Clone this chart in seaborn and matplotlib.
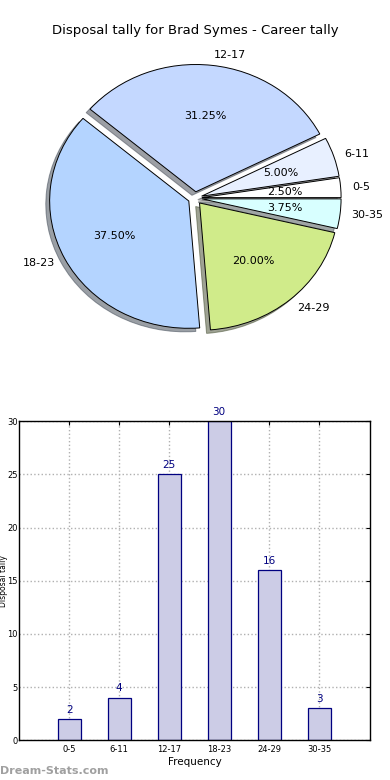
import matplotlib
matplotlib.use("Agg")
import matplotlib.pyplot as plt
import numpy as np
import pandas as pd
import seaborn as sns

sns.set_style("white")
plt.rcParams['font.family'] = ['DejaVu Sans']
plt.rcParams['text.color'] = 'black'
plt.rcParams['axes.labelcolor'] = 'black'
plt.rcParams['xtick.color'] = 'black'
plt.rcParams['ytick.color'] = 'black'

# disposal ranges and number of games in each
ranges = ["0-5", "6-11", "12-17", "18-23", "24-29", "30-35"]
games = [2, 4, 25, 30, 16, 3]
pie_colors = ["#ffffff", "#e8f0ff", "#c4d8ff", "#b4d4ff", "#d0eb8a", "#d8ffff"]

player = "Brad Symes"

fig = plt.figure(figsize=(3.9, 7.8), dpi=100)
fig.text(0.5, 0.961, "Disposal tally for %s - Career tally" % player,
         ha="center", va="center", fontsize=9.5)

# pie (old style, slightly squashed)
ax1 = fig.add_axes([0.054, 0.542, 0.892, 0.408])
wedges, texts, autotexts = ax1.pie(
    games, labels=ranges, colors=pie_colors, explode=[0.05] * len(games),
    autopct="%1.2f%%", shadow=True, startangle=0, labeldistance=1.08,
    pctdistance=0.6, wedgeprops=dict(edgecolor="black", linewidth=0.7),
    textprops=dict(fontsize=8))
ax1.set_aspect("auto")
ax1.set_xlim(-1.25, 1.25)
ax1.set_ylim(-1.25, 1.25)

# bar chart
df = pd.DataFrame({"range": ranges, "games": games})
ax2 = fig.add_axes([0.049, 0.051, 0.9, 0.409])
sns.barplot(data=df, x="range", y="games", color="#cccce6", saturation=1,
            width=0.46, edgecolor="navy", linewidth=0.9, ax=ax2, zorder=2)
for i, v in enumerate(games):
    ax2.text(i, v + 0.4, str(v), ha="center", va="bottom", color="navy", fontsize=7.5)
ax2.set_xlim(-1, 6.02)
ax2.set_ylim(0, 30)
ax2.set_yticks(np.arange(0, 31, 5))
ax2.grid(True, linestyle=":", color="#b0b0b0", linewidth=1, zorder=0)
ax2.set_axisbelow(True)
ax2.tick_params(labelsize=6, direction="in", top=True, right=True, length=3)
ax2.tick_params(axis="y", pad=1)
for s in ax2.spines.values():
    s.set_edgecolor("black")
    s.set_linewidth(1)
ax2.set_xlabel("Frequency", fontsize=7.5, labelpad=2)
ax2.set_ylabel("Disposal tally", fontsize=5.5, labelpad=2)
ax2.yaxis.set_label_coords(-0.033, 0.5)

fig.text(0.0, 0.012, "Dream-Stats.com", ha="left", va="center",
         fontsize=8, color="#a0a0a0", fontweight="bold")

fig.savefig("out.png", dpi=100)
